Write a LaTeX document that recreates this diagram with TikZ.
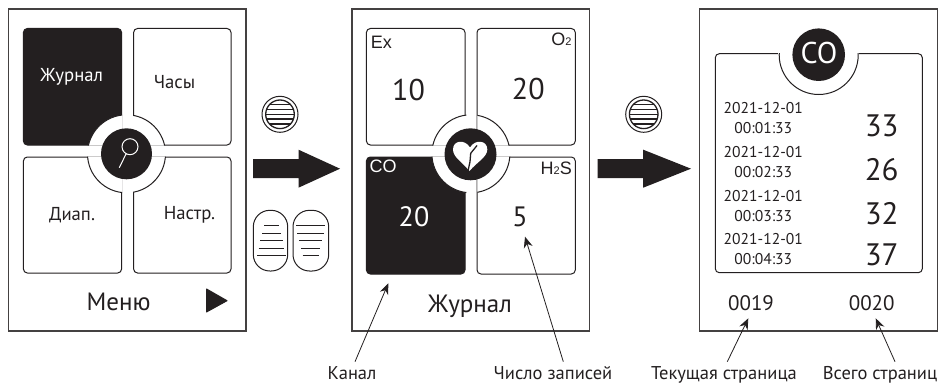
\documentclass[tikz,border=0pt]{standalone}
\usepackage{fontspec}
\setmainfont{PT Sans}
\newfontfamily\arialf{Liberation Sans}
\usetikzlibrary{arrows.meta}
\definecolor{ink}{HTML}{231F20}
\newcommand{\fs}[1]{\fontsize{#1}{#1}\selectfont}
\tikzset{
  x=1pt,y=-1pt,
  panel/.style={draw=ink!85,line width=1.2pt},
  card/.style={draw=ink,line width=1pt,rounded corners=4pt,fill=white},
  blackcard/.style={draw=ink,line width=1pt,rounded corners=4pt,fill=ink},
  ring/.style={draw=ink,line width=1pt,fill=white},
  txt/.style={inner sep=0pt,text=ink,anchor=center},
  notelabel/.style={inner sep=0pt,text=ink,anchor=base,font=\fs{18.5}},
  note/.style={draw=ink,line width=.8pt,-{Stealth[length=11pt,width=9pt]}},
  tick/.style={draw=ink,line width=.9pt},
}
\newcommand{\quadcards}[1]{%
  \begin{scope}
    \clip (#1+23,28.5) rectangle (#1+122,145.5) (#1+133,28.5) rectangle (#1+232,145.5)
          (#1+23,156.5) rectangle (#1+122,274) (#1+133,156.5) rectangle (#1+232,274);
    \draw[ring] (#1+126.5,153.8) circle[radius=39];
  \end{scope}
}
\newcommand{\panelbutton}[2]{%
  \draw[ink,line width=1pt] (#1,#2) circle[radius=18];
  \draw[ink,line width=1.3pt] (#1,#2) circle[radius=14.3];
  \foreach \dy/\hw in {-9.6/10.5,-4.8/13.5,0/14.3,4.8/13.5,9.6/10.5}
    \draw[ink,line width=1.3pt] (#1-\hw,#2+\dy) -- (#1+\hw,#2+\dy);
}
\newcommand{\bigarrowshape}[2]{%
  \fill[ink] (#1,159) -- (#1+45.5,159) -- (#1+45.5,149.7) -- (#1+#2,168.7) -- (#1+45.5,187.7) -- (#1+45.5,178) -- (#1,178) -- cycle;
}
\begin{document}
\begin{tikzpicture}
\useasboundingbox (0,0) rectangle (941,385);
\fill[white] (0,0) rectangle (941,385);

% panel 1
\draw[panel] (8.5,9) rectangle (246,331);
\draw[blackcard] (23.4,28.5) rectangle (121.6,145);
\draw[card] (133.6,28.5) rectangle (231,145);
\draw[card] (23.4,157) rectangle (121.6,273);
\draw[card] (133.6,157) rectangle (231,273);
\quadcards{0}
\fill[ink] (126.5,153.8) circle[radius=25.5];
\draw[white,line width=1pt] (130,146.7) circle[radius=8] (126,154) -- (119.3,167.7);
\node[txt,text=white,font=\fs{18.7}] (t1) at (71.7,77) {Журнал};
\node[txt,font=\fs{18.7}] (t2) at (174.5,82) {Часы};
\node[txt,font=\fs{18.7}] (t3) at (72,215) {Диап.};
\node[txt,font=\fs{18.7}] (t4) at (189.5,215) {Настр.};
\node[txt,font=\fs{25}] (t5) at (118.5,302) {Меню};
\fill[ink,draw=ink,line width=1pt,line join=round] (206.5,289) -- (206.5,312) -- (227,300.7) -- cycle;

% middle graphics
\panelbutton{280}{114.3}
\bigarrowshape{253}{87}
\draw[ink,line width=1pt,rounded corners=16.5pt] (253.3,210.3) rectangle (287.7,271);
\draw[ink,line width=1pt,rounded corners=16.5pt] (293,210.3) rectangle (328.7,271);
\foreach \y/\a/\b in {225.7/264/279.3,233.3/262/281,240.7/260/282.7,248.3/258.7/284.3,255.7/257/286,
                      225.7/296/325,233.3/297.3/323.7,240.7/299.3/322,248.3/301/320.3,255.7/302.7/318.7}
  \draw[tick] (\a,\y) -- (\b,\y);

% panel 2
\draw[panel] (352,9) rectangle (589.7,331);
\draw[card] (366.4,28.5) rectangle (465,145);
\draw[card] (477,28.5) rectangle (575.3,145);
\draw[blackcard] (366.4,157) rectangle (465,274);
\draw[card] (477,157) rectangle (575.3,274);
\quadcards{344.4}
\fill[ink] (470.5,154.3) circle[radius=26];
\fill[white] (469.5,171) .. controls (462,162) and (453,157) .. (453,149.5)
  .. controls (453,140) and (465,139) .. (470,147.5)
  .. controls (475,139) and (487.3,140) .. (487.3,149.5)
  .. controls (487.3,157) and (477,162) .. (469.5,171) -- cycle;
\draw[ink,line width=1.3pt] (477,145.5) -- (470.7,153.3) -- (470,161.7) -- (468,171);
\node[txt,font=\arialf\fs{18},anchor=west] (l1) at (370.7,42.7) {Ex};
\node[txt,font=\arialf\fs{18},anchor=east] (l2) at (571.7,39.5) {O{\fs{11}2}};
\node[txt,font=\arialf\fs{18},anchor=west,text=white] (l3) at (369.3,166.7) {CO};
\node[txt,font=\arialf\fs{18},anchor=east] (l4) at (572,168.3) {H{\fs{11}2}S};
\node[txt,font=\fs{30}] (v1) at (408.5,90) {10};
\node[txt,font=\fs{30}] (v2) at (528.3,88.7) {20};
\node[txt,font=\fs{28},text=white] (v3) at (414,217) {20};
\node[txt,font=\fs{28}] (v4) at (520,217) {5};
\node[txt,font=\fs{25}] (t6) at (470,306) {Журнал};

% arrow 2
\panelbutton{643.7}{114.3}
\bigarrowshape{597.7}{93.3}

% panel 3
\draw[panel] (699.7,9) rectangle (937.3,331);
\draw[card] (715.3,53.7) rectangle (922.3,272.7);
\fill[white] (778,50) rectangle (859,54.6);
\begin{scope}
  \clip (715,54) rectangle (923,273);
  \draw[ring] (818.7,55) circle[radius=39.5];
\end{scope}
\fill[ink] (818.7,54.7) circle[radius=26.3];
\node[txt,font=\fs{30},text=white] (co) at (819,53) {CO};
\foreach \n/\ya/\yb/\d/\t/\yv/\v in {
  a/108.3/128.3/2021-12-01/00:01:33/126/33,
  b/152.3/172.3/2021-12-01/00:02:33/169.3/26,
  c/195.7/215.7/2021-12-01/00:03:33/213.3/32,
  d/239.3/259.3/2021-12-01/00:04:33/255/37}{
  \node[txt,font=\fs{15.6}] (d\n) at (763.3,\ya) {\d};
  \node[txt,font=\fs{15.6}] (h\n) at (763.3,\yb) {\t};
  \node[txt,font=\fs{31}] (r\n) at (881.7,\yv) {\v};
}
\node[txt,font=\fs{21}] (p1) at (751,302.7) {0019};
\node[txt,font=\fs{21}] (p2) at (871.7,302.7) {0020};

% annotations
\node[notelabel] (n1) at (352,379.5) {Канал};
\node[notelabel] (n2) at (553,379.5) {Число записей};
\node[notelabel] (n3) at (724,379.5) {Текущая страница};
\node[notelabel] (n4) at (880,379.5) {Всего страниц};
\coordinate (s1) at (355,361.7); \coordinate (e1) at (388.3,283.3);
\coordinate (s2) at (563.3,361.7); \coordinate (e2) at (525,236.7);
\coordinate (s3) at (727.3,361.7); \coordinate (e3) at (748.3,318.3);
\coordinate (s4) at (895,361.7); \coordinate (e4) at (875.7,318.3);
\draw[note] (s1) -- (e1);
\draw[note] (s2) -- (e2);
\draw[note] (s3) -- (e3);
\draw[note] (s4) -- (e4);
\end{tikzpicture}
\end{document}
